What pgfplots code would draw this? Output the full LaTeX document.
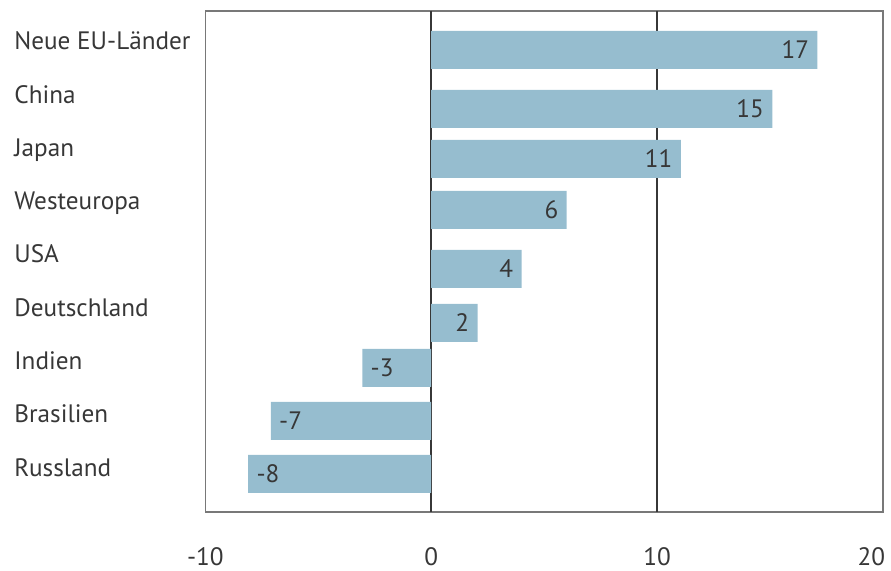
\documentclass[border=0pt]{standalone}
\usepackage{pgfplots}
\pgfplotsset{compat=1.18}
\usepackage{pgfplotstable}
\usepackage{fontspec}
\setmainfont{PT Sans}
\usetikzlibrary{calc}

\definecolor{barblue}{RGB}{150,189,207}
\definecolor{txt}{RGB}{55,55,55}
\definecolor{frame}{RGB}{120,120,120}

% y in pixel rows of the original (top = 11, bottom = 512)
\pgfplotstableread{
x     y    lab
17.1  50   17
15.1  109  15
11.05 159  11
6.0   210  6
4.0   269  4
2.05  323  2
}\pos
\pgfplotstableread{
x     y    lab
-3.05 368  -3
-7.1  421  -7
-8.1  474  -8
}\negs

\begin{document}
\begin{tikzpicture}
\begin{axis}[
  scale only axis,
  width=338.85pt, height=250.5pt,
  xmin=-10, xmax=20,
  ymin=11, ymax=512,
  y dir=reverse,
  axis line style={draw=frame, line width=0.6pt},
  xtick={-10,0,10,20},
  xticklabels={-10,0,10,\makebox[0pt][r]{20\kern-1pt}},
  ytick={50,103.3,156.7,210,263,316.7,370,423,476.7},
  yticklabels={Neue EU-Länder,China,Japan,Westeuropa,USA,Deutschland,Indien,Brasilien,Russland},
  major tick length=0pt,
  tick label style={font=\fontsize{12.6}{14}\selectfont, text=txt},
  yticklabel style={anchor=base west, inner sep=0pt, xshift=-95.65pt},
  xticklabel style={anchor=base, inner sep=0pt, yshift=-26.8pt},
  /pgf/number format/assume math mode=true,
  extra x ticks={0,10},
  extra x tick labels={},
  extra x tick style={grid=major, major grid style={draw=txt, line width=0.9pt}},
  xbar, bar width=38, bar shift=0pt,
  point meta=explicit symbolic,
  nodes near coords,
  clip=false,
]
\coordinate (bl) at (rel axis cs:0,0);
\addplot[fill=barblue, draw=none,
  every node near coord/.append style={anchor=east, inner sep=0pt, xshift=-4pt,
    font=\fontsize{12.6}{14}\selectfont, text=txt}]
  table[x=x, y=y, meta=lab] {\pos};
\addplot[fill=barblue, draw=none,
  every node near coord/.append style={anchor=west, inner sep=0pt, xshift=4pt,
    font=\fontsize{12.6}{14}\selectfont, text=txt}]
  table[x=x, y=y, meta=lab] {\negs};
\end{axis}
\pgfresetboundingbox
\path[use as bounding box] ($(bl)+(-102.65pt,-29.5pt)$) rectangle ($(bl)+(342.85pt,256pt)$);
\end{tikzpicture}
\end{document}
